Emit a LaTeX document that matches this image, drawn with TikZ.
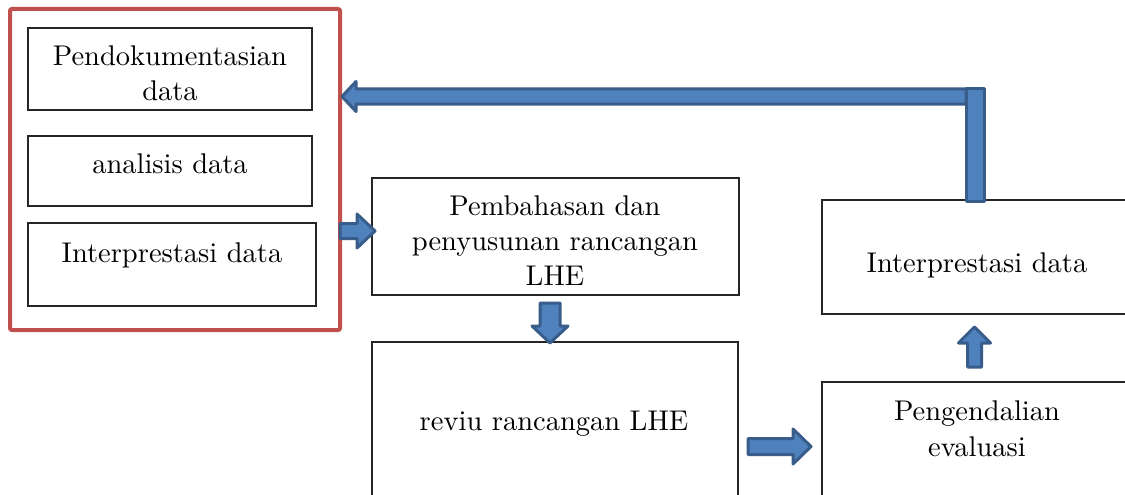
\documentclass[tikz,border=0pt]{standalone}
\usetikzlibrary{calc}
\definecolor{framered}{HTML}{C0504D}
\definecolor{arrfill}{HTML}{4F81BD}
\definecolor{arrline}{HTML}{385D8A}
\font\diagfont="[lmroman10-regular]:mapping=tex-text" at 28.5pt
\tikzset{
  box/.style={draw=black!85, line width=1.5pt, outer sep=0pt, inner sep=0pt, anchor=north west},
  frm/.style={draw=framered, line width=4pt, outer sep=0pt, inner sep=0pt, anchor=north west, rounded corners=2pt},
  txt/.style={anchor=base, inner sep=0pt, outer sep=0pt, font=\diagfont, text=black},
  blockarr/.style={draw=arrline, fill=arrfill, line width=3pt, line join=round},
}
\newcommand\blockarrow[5]{%
  \path ($(#2)!#5!(#1)$) coordinate (bah);
  \draw[blockarr] ($(#1)!#3!90:(#2)$) -- ($(bah)!#3!-90:(#1)$) -- ($(bah)!#4!-90:(#1)$) -- (#2)
    -- ($(bah)!#4!90:(#1)$) -- ($(bah)!#3!90:(#1)$) -- ($(#1)!#3!-90:(#2)$) -- cycle;
}
\begin{document}
\begin{tikzpicture}[x=1pt,y=-1pt]
\useasboundingbox[fill=white] (0,0) rectangle (1125,495);

% red frame and its boxes
\node[frm, minimum width=330, minimum height=321] (frame) at (10,9) {};
\node[box, minimum width=284, minimum height=82] (b1) at (28,28) {};
\node[box, minimum width=284, minimum height=70] (b2) at (28,136) {};
\node[box, minimum width=288, minimum height=83] (b3) at (28,223) {};
\node[txt] (t1a) at (170,66) {Pendokumentasian};
\node[txt] (t1b) at (170,100) {data};
\node[txt] (t2) at (170,173) {analisis data};
\node[txt] (t3) at (172,262) {Interprestasi data};

% middle column
\node[box, minimum width=367, minimum height=117] (pb) at (372,178) {};
\node[txt] (tpa) at (555,215) {Pembahasan dan};
\node[txt] (tpb) at (555,250) {penyusunan rancangan};
\node[txt] (tpc) at (555,285) {LHE};
\node[box, minimum width=366, minimum height=180] (rv) at (372,342) {};
\node[txt] (trv) at (554,430) {reviu rancangan LHE};

% right column
\node[box, minimum width=310, minimum height=114] (ri) at (822,200) {};
\node[txt] (tri) at (977,272) {Interprestasi data};
\node[box, minimum width=310, minimum height=140] (pm) at (822,382) {};
\node[txt] (tpma) at (977,420) {Pengendalian};
\node[txt] (tpmb) at (977,456) {evaluasi};

% connectors
\blockarrow{966,96.5}{$(frame.east |- 0,96.5)+(2,0)$}{7.5pt}{15pt}{14pt}
\draw[blockarr] (966,89) rectangle ($(ri.north -| 984,0)+(0,1)$);
\blockarrow{$(frame.east |- 0,231)$}{$(pb.west |- 0,231)+(3,0)$}{7.5pt}{17pt}{18pt}
\blockarrow{$(pb.south -| 550,0)+(0,8)$}{$(rv.north -| 550,0)+(0,1)$}{10pt}{18pt}{17pt}
\blockarrow{$(rv.east |- 0,446.5)+(10,0)$}{$(pm.west |- 0,446.5)+(-11,0)$}{8pt}{17.5pt}{18pt}
\blockarrow{$(pm.north -| 974.5,0)+(0,-15)$}{$(ri.south -| 974.5,0)+(0,13)$}{7pt}{16pt}{16pt}
\end{tikzpicture}
\end{document}
